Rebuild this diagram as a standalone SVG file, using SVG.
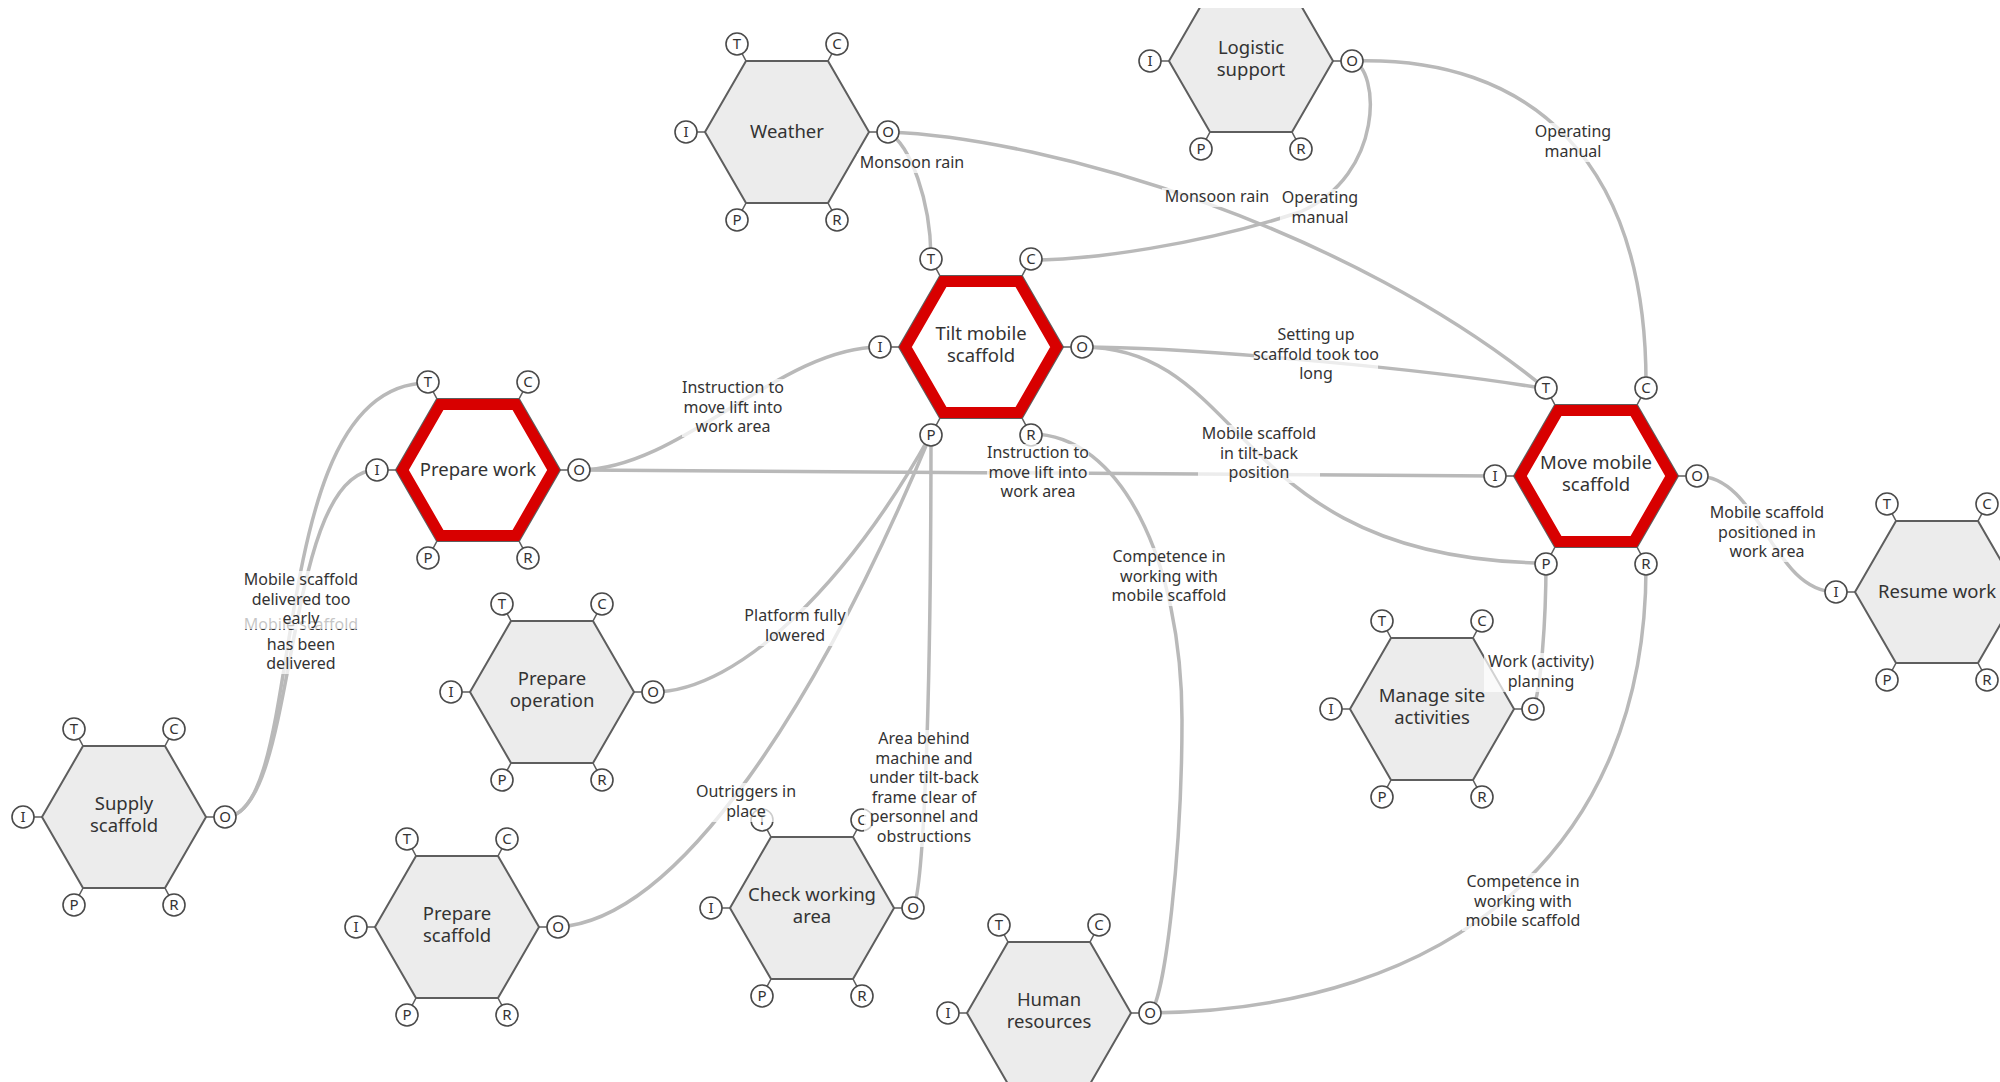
<svg xmlns="http://www.w3.org/2000/svg" xmlns:xlink="http://www.w3.org/1999/xlink" width="2000" height="1082" viewBox="0 0 2000 1082">
<style>
text{font-family:"Noto Sans","Open Sans","Liberation Sans",sans-serif;fill:#333}
.hex{fill:#ececec;stroke:#5e5e5e;stroke-width:2}
.hexw{fill:#fff;stroke:#5e5e5e;stroke-width:2}
.red{fill:none;stroke:#d80000;stroke-width:11;stroke-linejoin:miter}
.tick{stroke:#5e5e5e;stroke-width:1.6;fill:none}
.pc{fill:#fff;stroke:#4a4a4a;stroke-width:1.6}
.pt{font-size:15px;text-anchor:middle}
.fn{font-size:18.5px;text-anchor:middle}
.conn path{fill:none;stroke:#b9b9b9;stroke-width:3.5;stroke-linecap:round}
.lbl rect{fill:#fff;fill-opacity:0.72}
.lbl text{font-size:16px;text-anchor:middle}
</style>
<defs>
<polygon id="hexshape" points="82,0 41,71 -41,71 -82,0 -41,-71 41,-71"/>
<polygon id="hexin" points="75.5,0 37.75,65.4 -37.75,65.4 -75.5,0 -37.75,-65.4 37.75,-65.4"/>
<g id="ports">
<path class="tick" d="M-41,-71L-50,-88M41,-71L50,-88M-82,0L-101,0M82,0L101,0M-41,71L-50,88M41,71L50,88"/>
<circle class="pc" cx="-50" cy="-88" r="11"/>
<circle class="pc" cx="50" cy="-88" r="11"/>
<circle class="pc" cx="-101" cy="0" r="11"/>
<circle class="pc" cx="101" cy="0" r="11"/>
<circle class="pc" cx="-50" cy="88" r="11"/>
<circle class="pc" cx="50" cy="88" r="11"/>
<text class="pt" x="-50" y="-82.7">T</text>
<text class="pt" x="50" y="-82.7">C</text>
<text class="pt" x="-101" y="5.3">I</text>
<text class="pt" x="101" y="5.3">O</text>
<text class="pt" x="-50" y="93.3">P</text>
<text class="pt" x="50" y="93.3">R</text>
</g>
<clipPath id="topclip"><rect x="-200" y="-53" width="400" height="300"/></clipPath>
</defs>
<rect width="2000" height="1082" fill="#fff"/>

<g id="connectors" class="conn">
<path d="M888,132 C910,145 931,200 931,260"/>
<path d="M888,132 C1050,138 1350,228 1546,389"/>
<path d="M1352,61 C1380,68 1385,175 1300,212 C1200,245 1090,260 1031,260"/>
<path d="M1352,61 C1530,55 1648,160 1646,389"/>
<path d="M579,470 C680,470 780,347 880,347"/>
<path d="M579,470 C900,470 1200,476 1495,476"/>
<path d="M1082,347 C1200,347 1450,372 1546,389"/>
<path d="M1082,347 C1250,347 1230,560 1546,563"/>
<path d="M653,692 C740,692 850,580 931,434"/>
<path d="M558,927 C680,920 820,700 931,434"/>
<path d="M913,908 C924,890 931,700 931,434"/>
<path d="M1150,1013 C1165,1000 1182,850 1182,720 C1182,560 1120,434 1031,434"/>
<path d="M1150,1013 C1450,1010 1648,850 1646,563"/>
<path d="M1546,563 C1546,620 1541,690 1533,709"/>
<path d="M1697,476 C1760,476 1772,592 1836,592"/>
<path d="M225,817 C310,817 260,383 428,383"/>
<path d="M225,817 C300,817 280,470 377,470"/>
</g>

<g id="n-weather" transform="translate(787,132)"><use href="#hexshape" class="hex"/><use href="#ports"/><text class="fn" y="6">Weather</text></g>
<g id="n-logistic" transform="translate(1251,61)" clip-path="url(#topclip)"><use href="#hexshape" class="hex"/><use href="#ports"/><text class="fn" y="-7">Logistic</text><text class="fn" y="15">support</text></g>
<g id="n-tilt" transform="translate(981,347)"><use href="#hexshape" class="hexw"/><use href="#hexin" class="red"/><use href="#ports"/><text class="fn" y="-7">Tilt mobile</text><text class="fn" y="15">scaffold</text></g>
<g id="n-preparework" transform="translate(478,470)"><use href="#hexshape" class="hexw"/><use href="#hexin" class="red"/><use href="#ports"/><text class="fn" y="6">Prepare work</text></g>
<g id="n-move" transform="translate(1596,476)"><use href="#hexshape" class="hexw"/><use href="#hexin" class="red"/><use href="#ports"/><text class="fn" y="-7">Move mobile</text><text class="fn" y="15">scaffold</text></g>
<g id="n-resume" transform="translate(1937,592)"><use href="#hexshape" class="hex"/><use href="#ports"/><text class="fn" y="6">Resume work</text></g>
<g id="n-prepop" transform="translate(552,692)"><use href="#hexshape" class="hex"/><use href="#ports"/><text class="fn" y="-7">Prepare</text><text class="fn" y="15">operation</text></g>
<g id="n-manage" transform="translate(1432,709)"><use href="#hexshape" class="hex"/><use href="#ports"/><text class="fn" y="-7">Manage site</text><text class="fn" y="15">activities</text></g>
<g id="n-supply" transform="translate(124,817)"><use href="#hexshape" class="hex"/><use href="#ports"/><text class="fn" y="-7">Supply</text><text class="fn" y="15">scaffold</text></g>
<g id="n-prepscaf" transform="translate(457,927)"><use href="#hexshape" class="hex"/><use href="#ports"/><text class="fn" y="-7">Prepare</text><text class="fn" y="15">scaffold</text></g>
<g id="n-check" transform="translate(812,908)"><use href="#hexshape" class="hex"/><use href="#ports"/><text class="fn" y="-7">Check working</text><text class="fn" y="15">area</text></g>
<g id="n-human" transform="translate(1049,1013)"><use href="#hexshape" class="hex"/><use href="#ports"/><text class="fn" y="-7">Human</text><text class="fn" y="15">resources</text></g>

<g id="labels">
<g class="lbl"><rect x="857" y="154" width="110" height="19"/><text x="912" y="168">Monsoon rain</text></g>
<g class="lbl"><rect x="1162" y="188" width="110" height="19"/><text x="1217" y="202">Monsoon rain</text></g>
<g class="lbl"><rect x="1280" y="189" width="80" height="39"/><text x="1320" y="203">Operating<tspan x="1320" dy="19.5">manual</tspan></text></g>
<g class="lbl"><rect x="1533" y="123" width="80" height="39"/><text x="1573" y="137">Operating<tspan x="1573" dy="19.5">manual</tspan></text></g>
<g class="lbl"><rect x="1254" y="326" width="124" height="58"/><text x="1316" y="340">Setting up<tspan x="1316" dy="19.5">scaffold took too</tspan><tspan x="1316" dy="19.5">long</tspan></text></g>
<g class="lbl"><rect x="682" y="379" width="102" height="58"/><text x="733" y="393">Instruction to<tspan x="733" dy="19.5">move lift into</tspan><tspan x="733" dy="19.5">work area</tspan></text></g>
<g class="lbl"><rect x="987" y="444" width="102" height="58"/><text x="1038" y="458">Instruction to<tspan x="1038" dy="19.5">move lift into</tspan><tspan x="1038" dy="19.5">work area</tspan></text></g>
<g class="lbl"><rect x="1198" y="425" width="122" height="58"/><text x="1259" y="439">Mobile scaffold<tspan x="1259" dy="19.5">in tilt-back</tspan><tspan x="1259" dy="19.5">position</tspan></text></g>
<g class="lbl"><rect x="1108" y="548" width="122" height="58"/><text x="1169" y="562">Competence in<tspan x="1169" dy="19.5">working with</tspan><tspan x="1169" dy="19.5">mobile scaffold</tspan></text></g>
<g class="lbl"><rect x="742" y="607" width="106" height="39"/><text x="795" y="621">Platform fully<tspan x="795" dy="19.5">lowered</tspan></text></g>
<g class="lbl"><rect x="864" y="730" width="120" height="117"/><text x="924" y="744">Area behind<tspan x="924" dy="19.5">machine and</tspan><tspan x="924" dy="19.5">under tilt-back</tspan><tspan x="924" dy="19.5">frame clear of</tspan><tspan x="924" dy="19.5">personnel and</tspan><tspan x="924" dy="19.5">obstructions</tspan></text></g>
<g class="lbl"><rect x="694" y="783" width="104" height="39"/><text x="746" y="797">Outriggers in<tspan x="746" dy="19.5">place</tspan></text></g>
<g class="lbl"><rect x="1484" y="653" width="114" height="39"/><text x="1541" y="667">Work (activity)<tspan x="1541" dy="19.5">planning</tspan></text></g>
<g class="lbl"><rect x="1706" y="504" width="122" height="58"/><text x="1767" y="518">Mobile scaffold<tspan x="1767" dy="19.5">positioned in</tspan><tspan x="1767" dy="19.5">work area</tspan></text></g>
<g class="lbl"><rect x="1462" y="873" width="122" height="58"/><text x="1523" y="887">Competence in<tspan x="1523" dy="19.5">working with</tspan><tspan x="1523" dy="19.5">mobile scaffold</tspan></text></g>
<g class="lbl"><rect x="240" y="616" width="122" height="58"/><text x="301" y="630">Mobile scaffold<tspan x="301" dy="19.5">has been</tspan><tspan x="301" dy="19.5">delivered</tspan></text></g>
<g class="lbl"><rect x="240" y="571" width="122" height="58"/><text x="301" y="585">Mobile scaffold<tspan x="301" dy="19.5">delivered too</tspan><tspan x="301" dy="19.5">early</tspan></text></g>
</g>
</svg>
